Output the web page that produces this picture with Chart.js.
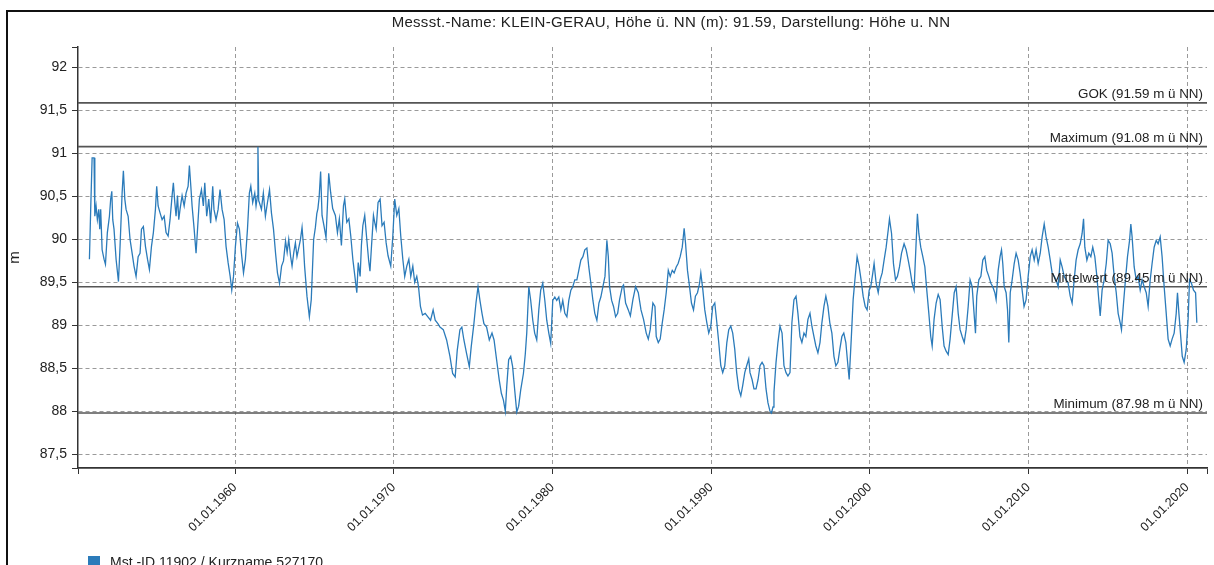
<!DOCTYPE html>
<html>
<head>
<meta charset="utf-8">
<script src="https://cdn.jsdelivr.net/npm/chart.js@4.4.1/dist/chart.umd.min.js"></script>
<style>
  html, body { margin: 0; padding: 0; width: 1214px; height: 565px; overflow: hidden; background: #fff;
    font-family: "Liberation Sans", Arial, sans-serif; }
  #frame { position: absolute; left: 6px; top: 10px; width: 1400px; height: 800px;
    border-top: 2px solid #111; border-left: 2px solid #111; }
  #chart { position: absolute; left: 0; top: 0; }
  #title { position: absolute; left: 671px; top: 13px; transform: translateX(-50%); white-space: nowrap;
    font-size: 15px; color: #222; letter-spacing: 0.3px; }
  #legend { position: absolute; left: 88px; top: 554px; display: flex; align-items: center;
    font-size: 14px; color: #222; white-space: nowrap; }
  #legend .box { width: 12px; height: 12px; margin-right: 10px; }
</style>
</head>
<body>
<div id="frame"></div>
<canvas id="chart" width="1214" height="565"></canvas>
<div id="title"></div>
<div id="legend"></div>
<script>
const FONT = '"Liberation Sans", Arial, sans-serif';

const titleText = 'Messst.-Name: KLEIN-GERAU, Höhe ü. NN (m): 91.59, Darstellung: Höhe u. NN';
const seriesLabel = 'Mst.-ID 11902 / Kurzname 527170';
const yAxisTitle = 'm';

// axis ranges and labelled ticks
const xRange = [1950.1, 2021.25];
const yRange = [87.34, 92.24];
const xTickYears = [1960, 1970, 1980, 1990, 2000, 2010, 2020];
const yTickValues = [87.5, 88, 88.5, 89, 89.5, 90, 90.5, 91, 91.5, 92];

// reference levels (m ü NN)
const refNames = ['GOK', 'Maximum', 'Mittelwert', 'Minimum'];
const refLevels = [91.59, 91.08, 89.45, 87.98];

// groundwater level [decimal year, m ü NN]
const levels1950s = [
  [1950.82,89.77],[1950.90,90.35],[1950.99,90.95],[1951.11,90.95],[1951.16,90.27],[1951.24,90.39],
  [1951.32,90.23],[1951.41,90.35],[1951.47,90.12],[1951.53,90.35],[1951.62,89.88],[1951.74,89.77],
  [1951.83,89.71],[1951.95,90.08],[1952.08,90.27],[1952.16,90.47],[1952.23,90.56],[1952.29,90.23],
  [1952.37,90.12],[1952.50,89.77],[1952.65,89.51],[1952.75,89.92],[1952.88,90.54],[1952.96,90.80],
  [1953.05,90.47],[1953.13,90.35],[1953.26,90.27],[1953.38,90.00],[1953.51,89.84],[1953.63,89.69],
  [1953.76,89.57],[1953.89,89.80],[1954.01,89.84],[1954.10,90.12],[1954.22,90.15],[1954.35,89.92],
  [1954.48,89.77],[1954.60,89.65],[1954.73,89.92],[1954.85,90.08],[1954.98,90.35],[1955.06,90.62],
  [1955.15,90.39],[1955.27,90.31],[1955.40,90.23],[1955.53,90.27],[1955.65,90.08],[1955.78,90.04],
  [1955.90,90.23],[1956.03,90.51],[1956.11,90.66],[1956.20,90.43],[1956.28,90.27],[1956.37,90.51],
  [1956.45,90.23],[1956.53,90.35],[1956.66,90.51],[1956.79,90.39],[1956.91,90.54],[1957.04,90.62],
  [1957.12,90.86],[1957.21,90.62],[1957.29,90.39],[1957.42,90.12],[1957.54,89.84],[1957.67,90.23],
  [1957.75,90.47],[1957.88,90.58],[1958.00,90.39],[1958.09,90.66],[1958.21,90.27],[1958.34,90.47],
  [1958.46,90.19],[1958.59,90.62],[1958.67,90.35],[1958.80,90.23],[1958.93,90.35],[1959.05,90.58],
  [1959.18,90.35],[1959.31,90.23],[1959.43,89.92],[1959.56,89.73],[1959.69,89.57],[1959.79,89.41],
  [1959.90,89.57]
];
const levels1960s = [
  [1960.02,89.92],[1960.15,90.19],[1960.27,90.12],[1960.40,89.84],[1960.53,89.61],[1960.65,89.77],
  [1960.78,90.12],[1960.90,90.54],[1960.99,90.62],[1961.11,90.43],[1961.24,90.54],[1961.32,90.39],
  [1961.41,90.51],[1961.44,91.08],[1961.49,90.45],[1961.53,90.43],[1961.66,90.35],[1961.78,90.54],
  [1961.91,90.27],[1962.04,90.43],[1962.17,90.58],[1962.29,90.31],[1962.42,90.12],[1962.55,89.84],
  [1962.67,89.61],[1962.80,89.49],[1962.93,89.69],[1963.05,89.75],[1963.18,89.98],[1963.28,89.85],
  [1963.38,90.00],[1963.50,89.80],[1963.59,89.69],[1963.70,89.85],[1963.80,89.96],[1963.90,89.80],
  [1964.00,89.89],[1964.12,90.00],[1964.22,90.14],[1964.30,89.95],[1964.38,89.69],[1964.53,89.34],
  [1964.68,89.10],[1964.80,89.30],[1964.95,90.00],[1965.06,90.14],[1965.15,90.30],[1965.22,90.36],
  [1965.30,90.50],[1965.39,90.79],[1965.48,90.28],[1965.60,90.16],[1965.73,90.02],[1965.82,90.40],
  [1965.90,90.77],[1966.02,90.55],[1966.15,90.36],[1966.32,90.28],[1966.45,90.08],[1966.57,90.24],
  [1966.70,89.93],[1966.83,90.39],[1966.91,90.47],[1967.04,90.20],[1967.17,90.24],[1967.29,90.04],
  [1967.42,89.77],[1967.55,89.57],[1967.67,89.38],[1967.76,89.73],[1967.88,89.57],[1967.96,89.93],
  [1968.05,90.16],[1968.17,90.28],[1968.30,90.00],[1968.42,89.75],[1968.50,89.63],[1968.59,89.90],
  [1968.72,90.28],[1968.80,90.20],[1968.89,90.12],[1969.01,90.43],[1969.14,90.47],[1969.26,90.16],
  [1969.39,90.20],[1969.52,89.96],[1969.64,89.81],[1969.81,89.69],[1969.94,90.04]
];
const levels1970s = [
  [1970.06,90.47],[1970.19,90.28],[1970.32,90.36],[1970.44,90.04],[1970.57,89.77],[1970.69,89.57],
  [1970.82,89.69],[1970.95,89.77],[1971.07,89.57],[1971.20,89.69],[1971.32,89.50],[1971.45,89.57],
  [1971.56,89.45],[1971.68,89.22],[1971.81,89.12],[1971.98,89.14],[1972.15,89.10],[1972.32,89.06],
  [1972.48,89.18],[1972.61,89.06],[1972.78,89.02],[1972.91,88.98],[1973.12,88.95],[1973.33,88.83],
  [1973.54,88.64],[1973.71,88.44],[1973.87,88.40],[1974.00,88.71],[1974.17,88.95],[1974.29,88.98],
  [1974.42,88.83],[1974.59,88.67],[1974.76,88.52],[1974.88,88.75],[1975.05,89.02],[1975.18,89.26],
  [1975.31,89.45],[1975.43,89.29],[1975.56,89.14],[1975.68,89.02],[1975.85,88.98],[1976.02,88.83],
  [1976.19,88.91],[1976.32,88.83],[1976.48,88.60],[1976.65,88.36],[1976.78,88.21],[1976.91,88.13],
  [1977.03,88.00],[1977.12,88.29],[1977.24,88.60],[1977.37,88.64],[1977.49,88.52],[1977.62,88.25],
  [1977.75,87.99],[1977.87,88.06],[1978.00,88.25],[1978.17,88.44],[1978.29,88.67],[1978.38,88.91],
  [1978.51,89.45],[1978.63,89.29],[1978.76,89.06],[1978.88,88.91],[1979.01,88.83],[1979.14,89.18],
  [1979.26,89.41],[1979.39,89.49],[1979.52,89.29],[1979.64,89.06],[1979.77,88.91],[1979.89,88.79]
];
const levels1980s = [
  [1980.02,89.29],[1980.15,89.33],[1980.27,89.29],[1980.40,89.33],[1980.53,89.18],[1980.65,89.29],
  [1980.78,89.14],[1980.91,89.10],[1981.03,89.29],[1981.16,89.41],[1981.28,89.45],[1981.41,89.53],
  [1981.54,89.53],[1981.66,89.64],[1981.79,89.76],[1981.92,89.80],[1982.04,89.88],[1982.17,89.90],
  [1982.29,89.68],[1982.42,89.49],[1982.55,89.29],[1982.67,89.14],[1982.80,89.06],[1982.93,89.26],
  [1983.05,89.33],[1983.18,89.45],[1983.31,89.57],[1983.43,89.99],[1983.52,89.80],[1983.60,89.45],
  [1983.73,89.29],[1983.85,89.22],[1983.98,89.10],[1984.11,89.14],[1984.23,89.30],[1984.40,89.45],
  [1984.48,89.47],[1984.61,89.26],[1984.78,89.18],[1984.91,89.11],[1985.07,89.30],[1985.24,89.45],
  [1985.41,89.38],[1985.58,89.18],[1985.74,89.07],[1985.91,88.91],[1986.04,88.84],[1986.16,88.95],
  [1986.33,89.26],[1986.46,89.22],[1986.54,88.87],[1986.67,88.80],[1986.79,88.84],[1986.92,89.03],
  [1987.04,89.18],[1987.17,89.38],[1987.30,89.64],[1987.42,89.57],[1987.55,89.64],[1987.67,89.61],
  [1987.80,89.68],[1987.92,89.72],[1988.05,89.80],[1988.18,89.91],[1988.30,90.13],[1988.39,89.95],
  [1988.51,89.64],[1988.64,89.45],[1988.76,89.26],[1988.89,89.18],[1989.01,89.34],[1989.14,89.38],
  [1989.27,89.49],[1989.35,89.61],[1989.48,89.41],[1989.60,89.18],[1989.73,89.03],[1989.85,88.91],
  [1989.98,88.99]
];
const levels1990s = [
  [1990.10,89.22],[1990.23,89.26],[1990.36,89.03],[1990.48,88.80],[1990.61,88.53],[1990.73,88.45],
  [1990.86,88.53],[1990.99,88.80],[1991.11,88.95],[1991.24,88.99],[1991.36,88.91],[1991.49,88.72],
  [1991.61,88.45],[1991.74,88.26],[1991.87,88.18],[1991.99,88.30],[1992.12,88.45],[1992.24,88.53],
  [1992.37,88.61],[1992.45,88.45],[1992.58,88.37],[1992.70,88.26],[1992.83,88.26],[1992.96,88.37],
  [1993.08,88.53],[1993.21,88.57],[1993.33,88.53],[1993.46,88.26],[1993.58,88.10],[1993.71,88.00],
  [1993.80,87.98],[1993.90,88.05],[1993.96,88.22],[1994.09,88.57],[1994.21,88.80],[1994.34,88.99],
  [1994.47,88.91],[1994.59,88.53],[1994.72,88.45],[1994.84,88.41],[1994.97,88.45],[1995.09,89.03],
  [1995.22,89.30],[1995.35,89.34],[1995.47,89.14],[1995.60,88.87],[1995.72,88.80],[1995.85,88.91],
  [1995.97,88.87],[1996.10,89.07],[1996.23,89.14],[1996.35,88.99],[1996.48,88.87],[1996.60,88.76],
  [1996.73,88.68],[1996.86,88.80],[1996.98,89.03],[1997.11,89.22],[1997.23,89.34],[1997.36,89.22],
  [1997.48,89.03],[1997.61,88.91],[1997.74,88.64],[1997.86,88.53],[1997.99,88.57],[1998.11,88.72],
  [1998.24,88.87],[1998.36,88.91],[1998.49,88.80],[1998.62,88.53],[1998.70,88.37],[1998.83,88.84],
  [1998.95,89.30],[1999.08,89.57],[1999.20,89.80],[1999.33,89.68],[1999.45,89.53],[1999.58,89.34],
  [1999.71,89.22],[1999.83,89.18],[1999.96,89.41]
];
const levels2000s = [
  [2000.06,89.45],[2000.19,89.61],[2000.27,89.72],[2000.40,89.49],[2000.53,89.38],[2000.65,89.53],
  [2000.78,89.61],[2000.90,89.76],[2001.03,89.91],[2001.16,90.11],[2001.24,90.24],[2001.37,90.07],
  [2001.49,89.72],[2001.62,89.53],[2001.74,89.57],[2001.87,89.68],[2002.00,89.84],[2002.16,89.95],
  [2002.29,89.88],[2002.42,89.76],[2002.54,89.64],[2002.67,89.49],[2002.79,89.41],[2002.88,89.80],
  [2003.00,90.30],[2003.09,90.07],[2003.21,89.91],[2003.34,89.80],[2003.47,89.68],[2003.59,89.41],
  [2003.72,89.14],[2003.84,88.87],[2003.93,88.76],[2004.05,89.07],[2004.18,89.26],[2004.31,89.36],
  [2004.43,89.30],[2004.56,88.99],[2004.68,88.76],[2004.81,88.70],[2004.94,88.66],[2005.06,88.84],
  [2005.19,89.11],[2005.32,89.38],[2005.44,89.45],[2005.57,89.14],[2005.69,88.95],[2005.82,88.87],
  [2005.95,88.80],[2006.07,88.95],[2006.20,89.22],[2006.32,89.53],[2006.45,89.45],[2006.57,89.14],
  [2006.66,88.91],[2006.74,89.34],[2006.87,89.53],[2007.00,89.57],[2007.12,89.76],[2007.25,89.80],
  [2007.37,89.64],[2007.50,89.57],[2007.63,89.49],[2007.75,89.45],[2007.88,89.38],[2007.96,89.30],
  [2008.09,89.64],[2008.21,89.80],[2008.30,89.88],[2008.38,89.72],[2008.47,89.45],[2008.59,89.38],
  [2008.68,89.18],[2008.76,88.80],[2008.85,89.38],[2008.97,89.53],[2009.10,89.72],[2009.22,89.84],
  [2009.35,89.76],[2009.47,89.61],[2009.60,89.41],[2009.72,89.22],[2009.85,89.30],[2009.98,89.57]
];
const levels2010s = [
  [2010.11,89.80],[2010.23,89.88],[2010.36,89.76],[2010.48,89.88],[2010.61,89.72],[2010.74,89.84],
  [2010.86,90.03],[2010.99,90.18],[2011.11,90.03],[2011.24,89.91],[2011.37,89.76],[2011.49,89.61],
  [2011.62,89.57],[2011.74,89.53],[2011.87,89.45],[2012.00,89.76],[2012.12,89.68],[2012.25,89.57],
  [2012.38,89.53],[2012.50,89.49],[2012.63,89.34],[2012.75,89.26],[2012.88,89.53],[2013.00,89.76],
  [2013.13,89.88],[2013.26,89.95],[2013.38,90.07],[2013.47,90.24],[2013.55,89.91],[2013.68,89.76],
  [2013.80,89.84],[2013.93,89.80],[2014.05,89.91],[2014.18,89.80],[2014.31,89.57],[2014.43,89.30],
  [2014.52,89.11],[2014.64,89.41],[2014.77,89.53],[2014.90,89.72],[2015.02,89.99],[2015.15,89.95],
  [2015.27,89.84],[2015.40,89.57],[2015.53,89.38],[2015.65,89.14],[2015.78,89.03],[2015.86,88.95],
  [2015.99,89.26],[2016.11,89.53],[2016.24,89.80],[2016.37,89.99],[2016.45,90.18],[2016.53,90.03],
  [2016.66,89.68],[2016.79,89.53],[2016.91,89.57],[2017.04,89.41],[2017.16,89.53],[2017.29,89.45],
  [2017.42,89.38],[2017.54,89.22],[2017.67,89.53],[2017.79,89.72],[2017.92,89.91],[2018.05,89.99],
  [2018.17,89.95],[2018.30,90.03],[2018.42,89.80],[2018.55,89.45],[2018.68,89.14],[2018.80,88.84],
  [2018.93,88.76],[2019.05,88.84],[2019.18,88.91],[2019.31,89.14],[2019.39,89.38],[2019.48,89.14],
  [2019.56,88.95],[2019.69,88.64],[2019.81,88.57],[2019.94,88.72]
];
const levels2020s = [
  [2020.06,89.07],[2020.15,89.53],[2020.27,89.49],[2020.40,89.41],[2020.53,89.38],[2020.61,89.03]
];

const seriesColor = '#2b7bba';
const gridColor = '#9a9a9a';
const axisColor = '#333';
const clear = 'rgba(0,0,0,0)';

const series = [levels1950s, levels1960s, levels1970s, levels1980s, levels1990s, levels2000s, levels2010s, levels2020s]
  .flat().map(([x, y]) => ({ x, y }));

const refDatasets = refLevels.map((v, i) => ({
  label: refNames[i],
  data: [{ x: xRange[0], y: v }, { x: xRange[1], y: v }],
  borderColor: '#555',
  borderWidth: 1.6,
  pointRadius: 0,
  order: 2
}));

// labels above each reference line, right-aligned in the plot area
const refLabelPlugin = {
  id: 'refLabels',
  afterDatasetsDraw(chart) {
    const { ctx, chartArea, scales } = chart;
    ctx.save();
    ctx.font = '13.4px ' + FONT;
    ctx.fillStyle = '#222';
    ctx.textAlign = 'right';
    ctx.textBaseline = 'alphabetic';
    refLevels.forEach((v, i) => {
      const py = scales.y.getPixelForValue(v);
      ctx.fillText(refNames[i] + ' (' + v.toFixed(2) + ' m ü NN)', chartArea.right - 4, py - 5);
    });
    ctx.restore();
  }
};

const chart = new Chart(document.getElementById('chart'), {
  type: 'line',
  data: {
    datasets: [
      {
        label: seriesLabel,
        data: series,
        borderColor: seriesColor,
        backgroundColor: seriesColor,
        borderWidth: 1.3,
        pointRadius: 0,
        tension: 0,
        order: 1
      },
      ...refDatasets
    ]
  },
  options: {
    responsive: false,
    animation: false,
    parsing: false,
    layout: { padding: { top: 47, left: 0, right: 7, bottom: 0 } },
    plugins: { legend: { display: false }, title: { display: false }, tooltip: { enabled: false } },
    scales: {
      x: {
        type: 'linear',
        min: xRange[0],
        max: xRange[1],
        afterBuildTicks: s => { s.ticks = [xRange[0], ...xTickYears, xRange[1]].map(value => ({ value })); },
        afterFit: s => { s.height = 97; s.paddingLeft = 0; s.paddingRight = 0; },
        ticks: {
          autoSkip: false, maxRotation: 45, minRotation: 45, padding: 6,
          font: { size: 12.5, family: FONT }, color: '#222',
          callback: v => xTickYears.includes(v) ? '01.01.' + v : ''
        },
        grid: {
          color: c => (c.tick && xTickYears.includes(c.tick.value)) ? gridColor : clear,
          lineWidth: 1, tickColor: axisColor, tickLength: 6, tickWidth: 1
        },
        border: { color: axisColor, width: 1.8, dash: [4, 3] }
      },
      y: {
        type: 'linear',
        min: yRange[0],
        max: yRange[1],
        afterBuildTicks: s => { s.ticks = [yRange[0], ...yTickValues, yRange[1]].map(value => ({ value })); },
        afterFit: s => { s.width = 78; s.paddingTop = 0; s.paddingBottom = 0; },
        ticks: {
          padding: 5, font: { size: 14, family: FONT }, color: '#222',
          callback: v => yTickValues.includes(v) ? String(v).replace('.', ',') : ''
        },
        grid: {
          color: c => (c.tick && yTickValues.includes(c.tick.value)) ? gridColor : clear,
          lineWidth: 1, tickColor: axisColor, tickLength: 6, tickWidth: 1
        },
        border: { color: axisColor, width: 1.5, dash: [4, 3] },
        title: { display: true, text: yAxisTitle, font: { size: 15, family: FONT }, color: '#222', padding: { top: 6, bottom: 0 } }
      }
    }
  },
  plugins: [refLabelPlugin]
});

document.getElementById('title').textContent = titleText;
const main = chart.data.datasets[0];
const legend = document.getElementById('legend');
const box = document.createElement('span');
box.className = 'box';
box.style.background = main.backgroundColor;
const txt = document.createElement('span');
txt.textContent = main.label;
legend.append(box, txt);
</script>
</body>
</html>
